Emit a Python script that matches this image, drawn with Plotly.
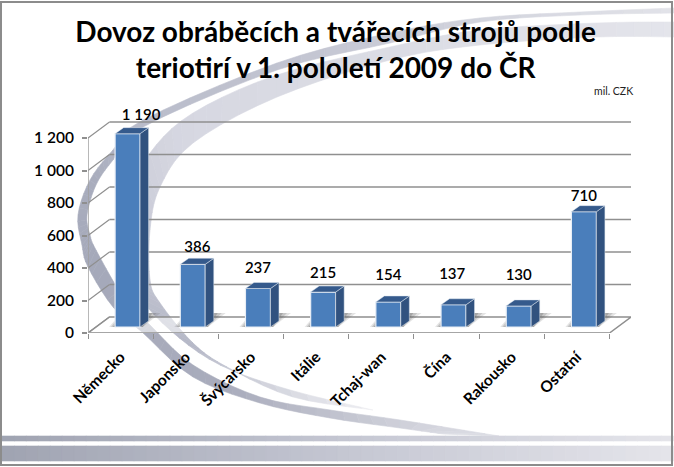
import plotly.graph_objects as go

categories = ["Německo", "Japonsko", "Švýcarsko", "Itálie", "Tchaj-wan", "Čína", "Rakousko", "Ostatní"]
values = [1190, 386, 237, 215, 154, 137, 130, 710]
value_labels = ["1 190", "386", "237", "215", "154", "137", "130", "710"]
y_ticks = [0, 200, 400, 600, 800, 1000, 1200]
y_tick_labels = ["0", "200", "400", "600", "800", "1 000", "1 200"]

W, H = 674, 467
FONT = "Lato"
INK = "#000000"
GRID = "#8f8f8f"

# label placement (small manual nudges as in the source chart)
label_dx = [0.207, 0.07, 0.0, 0.0, 0.0, -0.02, 0.0, 0.0]
label_lift = [105, 100, 120, 112, 160, 180, 185, 90]

# 3D geometry in axis units
PX_X = 65.19
PX_Y = 0.1625
WALL_DX = 21.5 / PX_X
WALL_DY = 16 / PX_Y
BAR_W = 25 / PX_X
BAR_SHIFT = 7 / PX_X
BASE = 6 / PX_Y
DEPTH_X = 8.5 / PX_X
DEPTH_Y = 6 / PX_Y


def hex2rgb(c):
    return tuple(int(c[i:i + 2], 16) for i in (1, 3, 5))


def lerp_color(stops, t):
    n = len(stops) - 1
    k = min(int(t * n), n - 1)
    f = t * n - k
    a, b = hex2rgb(stops[k]), hex2rgb(stops[k + 1])
    return "rgb(%d,%d,%d)" % tuple(round(a[i] + (b[i] - a[i]) * f) for i in range(3))


def catmull(pts, sub=5):
    out = []
    for i in range(len(pts) - 1):
        p0 = pts[max(i - 1, 0)]
        p1 = pts[i]
        p2 = pts[i + 1]
        p3 = pts[min(i + 2, len(pts) - 1)]
        for s in range(sub):
            t = s / sub
            out.append(tuple(
                0.5 * (2 * p1[d] + (p2[d] - p0[d]) * t + (2 * p0[d] - 5 * p1[d] + 4 * p2[d] - p3[d]) * t * t
                       + (3 * p1[d] - p0[d] - 3 * p2[d] + p3[d]) * t ** 3) for d in (0, 1)))
    out.append(pts[-1])
    return out


def px(x, y):
    return x / W, 1 - y / H


def poly(points, color):
    d = "M" + " L".join("%.5f,%.5f" % px(*p) for p in points) + " Z"
    return dict(type="path", xref="paper", yref="paper", path=d, fillcolor=color,
                line=dict(color=color, width=0.6), layer="below")


def ribbon(outer, inner, stops):
    a, b = catmull(outer), catmull(inner)
    res = []
    for i in range(len(a) - 1):
        res.append(poly([a[i], a[i + 1], b[i + 1], b[i]], lerp_color(stops, i / (len(a) - 2))))
    return res


shapes = []

# light crescent
shapes += ribbon(
    [(674, 22), (597, 23), (480, 30), (390, 47), (277, 75), (193, 113), (150, 153), (128, 200), (125, 250),
     (135, 290), (170, 330), (220, 365), (290, 390), (373, 410)],
    [(674, 37), (597, 37), (480, 45), (390, 60), (277, 97), (193, 143), (160, 187), (150, 230), (150, 280),
     (160, 303), (193, 343), (227, 367), (293, 397), (373, 410)],
    ["#e4e5eb", "#dcdde5", "#d6d7e1", "#c4c6d3", "#b4b7c6", "#eeeef2"])
# dark band
shapes += ribbon(
    [(674, 8), (580, 12), (480, 18), (390, 33), (277, 63), (143, 120), (113, 150), (90, 180), (78, 215), (82, 245),
     (88, 267), (113, 307), (142, 332), (193, 377), (260, 403), (330, 418), (400, 428), (443, 434)],
    [(674, 13), (580, 15), (480, 22), (390, 43), (277, 70), (143, 127), (113, 160), (96, 185), (87, 215), (90, 235),
     (96, 250), (125, 300), (150, 325), (193, 365), (260, 397), (330, 410), (400, 420), (499, 436)],
    ["#e2e3e9", "#c6c8d4", "#a9adbd", "#a5a9ba", "#a9acbc", "#dcdde4"])

# footer stripes
STEPS = 56
for i in range(STEPS):
    x0 = 2 + i * (671 / STEPS)
    x1 = x0 + 671 / STEPS + 0.5
    c = lerp_color(["#a0a4b2", "#c4c6d2", "#e4e4ea"], i / (STEPS - 1))
    shapes.append(poly([(x0, 436), (x1, 436), (x1, 441), (x0, 441)], c))
    shapes.append(poly([(x0, 446), (x1, 446), (x1, 461), (x0, 461)], c))

# frame
x0, y0 = px(1, 2)
x1, y1 = px(672, 465)
shapes.append(dict(type="rect", xref="paper", yref="paper", x0=x0, y0=y0, x1=x1, y1=y1,
                   line=dict(color="#8c8c8c", width=2), layer="below"))


def seg(xa, ya, xb, yb, width=1.5, color=GRID):
    return dict(type="line", xref="x", yref="y", x0=xa, y0=ya, x1=xb, y1=yb,
                line=dict(color=color, width=width), layer="below")


left, right = -0.5, len(categories) - 0.5

# back wall grid and its slanted returns
for v in y_ticks:
    if v == 0:
        continue
    shapes.append(seg(left + WALL_DX, v + WALL_DY, right + WALL_DX, v + WALL_DY))
for v in y_ticks:
    shapes.append(seg(left, v, left + WALL_DX, v + WALL_DY, 1.2))
# floor
shapes.append(dict(type="path", xref="x", yref="y", layer="below", fillcolor="rgba(255,255,255,0.55)",
                   line=dict(color=GRID, width=1.5),
                   path="M%f,0 L%f,0 L%f,%f L%f,%f Z" % (left, right, right + WALL_DX, WALL_DY, left + WALL_DX, WALL_DY)))
# left wall vertical and the front floor edge
shapes.append(seg(left, 0, left, y_ticks[-1], 1.5, "#a0a0a0"))
shapes.append(seg(left, 0, right, 0, 2.2, "#a6a6a6"))

# floor shadows beside each bar
for i in range(len(categories)):
    c = i + BAR_SHIFT
    for grow, alpha in ((12, 0.16), (8, 0.22), (4, 0.3)):
        g = grow / PX_X
        shapes.append(dict(type="path", xref="x", yref="y", layer="below", line=dict(width=0),
                           fillcolor="rgba(90,90,90,%.2f)" % alpha,
                           path="M%f,%f L%f,%f L%f,%f L%f,%f Z" % (
                               c - BAR_W / 2 - g / 2, BASE,
                               c + BAR_W / 2 + DEPTH_X * 0.3, BASE,
                               c + BAR_W / 2 + DEPTH_X + g, BASE + DEPTH_Y + 8 / PX_Y,
                               c - BAR_W / 2 + DEPTH_X - g * 0.2, BASE + DEPTH_Y + 8 / PX_Y)))

side_x, side_y, top_x, top_y = [], [], [], []
for i, v in enumerate(values):
    l = i + BAR_SHIFT - BAR_W / 2
    r = l + BAR_W
    t = BASE + v
    side_x += [r, r + DEPTH_X, r + DEPTH_X, r, r, None]
    side_y += [BASE, BASE + DEPTH_Y, t + DEPTH_Y, t, BASE, None]
    top_x += [l, r, r + DEPTH_X, l + DEPTH_X, l, None]
    top_y += [t, t, t + DEPTH_Y, t + DEPTH_Y, t, None]

fig = go.Figure()
fig.add_trace(go.Bar(x=[i + BAR_SHIFT for i in range(len(values))], y=values, base=BASE, width=BAR_W,
                     marker=dict(color="#4a7ebb", line=dict(color="#e8eef6", width=1.2)),
                     hoverinfo="skip", showlegend=False))
fig.add_trace(go.Scatter(x=side_x, y=side_y, mode="lines", fill="toself", fillcolor="#31527f",
                         line=dict(color="#dfe6ef", width=0.5), hoverinfo="skip", showlegend=False))
fig.add_trace(go.Scatter(x=top_x, y=top_y, mode="lines", fill="toself", fillcolor="#355a8c",
                         line=dict(color="#dfe6ef", width=0.5), hoverinfo="skip", showlegend=False))
fig.add_trace(go.Scatter(x=[i + BAR_SHIFT + label_dx[i] for i in range(len(values))],
                         y=[values[i] + BASE + label_lift[i] for i in range(len(values))],
                         mode="text", text=value_labels, cliponaxis=False,
                         textfont=dict(family=FONT, size=15, color=INK, weight=600),
                         hoverinfo="skip", showlegend=False))

fig.update_layout(
    width=W, height=H, autosize=False,
    margin=dict(l=0, r=0, t=0, b=0),
    paper_bgcolor="#ffffff", plot_bgcolor="rgba(0,0,0,0)",
    showlegend=False, shapes=shapes,
    title=dict(text="Dovoz obráběcích a tvářecích strojů podle<br>teriotirí v 1. pololetí 2009 do ČR",
               x=0.498, xanchor="center", y=0.911, yanchor="top",
               font=dict(family=FONT, size=28, color=INK, weight=700)),
    annotations=[dict(text="mil. CZK", xref="paper", yref="paper", x=613 / W, y=1 - 91 / H,
                      showarrow=False, xanchor="center", yanchor="middle",
                      font=dict(family=FONT, size=10.5, color="#222222"))],
    xaxis=dict(domain=[88 / W, 631 / W], range=[left, right + WALL_DX], showgrid=False, zeroline=False,
               automargin=False,
               showline=False, tickmode="array", tickvals=list(range(len(categories))), ticktext=categories,
               tickangle=-45, ticks="", ticklabelstandoff=11,
               tickfont=dict(family=FONT, size=15.5, color=INK, weight=700),
               minor=dict(tickmode="array", tickvals=[i - 0.5 for i in range(len(categories) + 1)],
                          ticks="outside", ticklen=5, tickcolor=GRID, tickwidth=1, showgrid=False)),
    yaxis=dict(domain=[1 - 333 / H, 1 - 100 / H], range=[0, 233 / PX_Y], showgrid=False, zeroline=False,
               automargin=False,
               showline=False, tickmode="array", tickvals=y_ticks, ticktext=y_tick_labels,
               ticks="outside", ticklen=5, tickcolor=GRID, tickwidth=1.5, ticklabelstandoff=5,
               tickfont=dict(family=FONT, size=15.5, color=INK, weight=600)),
)

fig.write_html("out.html", config={"displayModeBar": False},
               post_script="document.body.style.margin='0';document.body.style.overflow='hidden';")
